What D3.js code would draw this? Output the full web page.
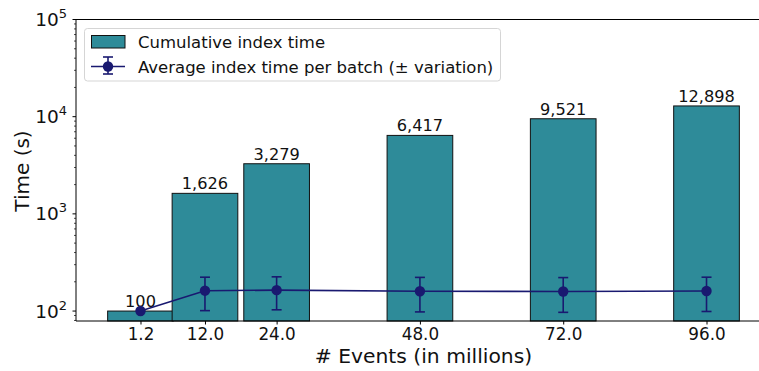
<!DOCTYPE html>
<html>
<head>
<meta charset="utf-8">
<script src="https://cdn.jsdelivr.net/npm/d3@7"></script>
<style>
  body { margin: 0; background: #fff; }
  svg { display: block; font-family: "DejaVu Sans", sans-serif; }
</style>
</head>
<body>
<svg id="chart" width="759" height="371"></svg>
<script>
// data
const events = [1.2, 12.0, 24.0, 48.0, 72.0, 96.0]
const cumulative = [100, 1626, 3279, 6417, 9521, 12898]
const avgBatch = [100, 162, 164, 160, 159, 161]
const variation = [0, 61, 61, 62, 62, 62]
const barWidth = 11

const svg = d3.select('#chart')
const plotLeft = 76, plotTop = 19.5, plotBottom = 321, plotRight = 771

const x = d3.scaleLinear().domain([-9.6, 106.8]).range([plotLeft, plotRight])
const y = d3.scaleLog().domain([79, 1e5]).range([plotBottom, plotTop])

const teal = '#2e8b99'
const navy = '#191970'

// bars
svg.append('g')
  .selectAll('rect')
  .data(events)
  .join('rect')
  .attr('x', d => x(d - barWidth / 2))
  .attr('width', d => x(d + barWidth / 2) - x(d - barWidth / 2))
  .attr('y', (d, i) => y(cumulative[i]))
  .attr('height', (d, i) => plotBottom - y(cumulative[i]))
  .attr('fill', teal)
  .attr('stroke', '#111')
  .attr('stroke-width', 1)

// bar labels
svg.append('g')
  .selectAll('text')
  .data(events)
  .join('text')
  .attr('x', d => x(d))
  .attr('y', (d, i) => y(cumulative[i]) - 4)
  .attr('text-anchor', 'middle')
  .attr('font-size', 16.2)
  .attr('fill', '#111')
  .text((d, i) => d3.format(',')(cumulative[i]))

// average line + error bars
const line = d3.line().x(d => x(d)).y((d, i) => y(avgBatch[i]))
svg.append('path')
  .attr('d', line(events))
  .attr('fill', 'none')
  .attr('stroke', navy)
  .attr('stroke-width', 1.6)

const eb = svg.append('g').selectAll('g').data(events).join('g')
eb.each(function (d, i) {
  if (variation[i] <= 0) return
  const g = d3.select(this)
  const cx = x(d)
  const y0 = y(avgBatch[i] - variation[i]), y1 = y(avgBatch[i] + variation[i])
  g.append('line').attr('x1', cx).attr('x2', cx).attr('y1', y0).attr('y2', y1)
  g.append('line').attr('x1', cx - 5).attr('x2', cx + 5).attr('y1', y0).attr('y2', y0)
  g.append('line').attr('x1', cx - 5).attr('x2', cx + 5).attr('y1', y1).attr('y2', y1)
  g.selectAll('line').attr('stroke', navy).attr('stroke-width', 1.6)
})
eb.append('circle')
  .attr('cx', d => x(d))
  .attr('cy', (d, i) => y(avgBatch[i]))
  .attr('r', 5.2)
  .attr('fill', navy)

// spines
svg.append('path')
  .attr('d', `M${plotLeft},${plotTop}V${plotBottom}H${plotRight}`)
  .attr('fill', 'none').attr('stroke', '#000').attr('stroke-width', 1)
svg.append('line')
  .attr('x1', plotLeft).attr('x2', plotRight).attr('y1', plotTop).attr('y2', plotTop)
  .attr('stroke', '#000').attr('stroke-width', 1)

// x axis
const xAxis = svg.append('g')
  .attr('transform', `translate(0,${plotBottom})`)
  .call(d3.axisBottom(x).tickValues(events).tickFormat(d3.format('.1f')).tickSize(3.5).tickPadding(4))
xAxis.select('.domain').remove()
xAxis.selectAll('text').attr('font-size', 16.8).attr('fill', '#111').attr('font-family', 'DejaVu Sans')

// y axis with log minor ticks
const majors = [100, 1000, 10000, 100000]
const minors = []
for (let e = 1; e <= 4; e++) for (let m = 2; m <= 9; m++) {
  const v = m * Math.pow(10, e)
  if (v >= 79 && v <= 1e5) minors.push(v)
}
svg.append('g').selectAll('line').data(minors).join('line')
  .attr('x1', plotLeft - 2).attr('x2', plotLeft)
  .attr('y1', d => y(d)).attr('y2', d => y(d))
  .attr('stroke', '#000').attr('stroke-width', 0.7)
svg.append('g').selectAll('line').data(majors).join('line')
  .attr('x1', plotLeft - 3.5).attr('x2', plotLeft)
  .attr('y1', d => y(d)).attr('y2', d => y(d))
  .attr('stroke', '#000').attr('stroke-width', 1)
const yt = svg.append('g').selectAll('text').data(majors).join('text')
  .attr('x', plotLeft - 9)
  .attr('y', d => y(d) + 6.5)
  .attr('text-anchor', 'end')
  .attr('font-size', 18.5)
  .attr('fill', '#111')
yt.append('tspan').text('10')
yt.append('tspan').attr('dy', -8).attr('font-size', 13).text(d => Math.round(Math.log10(d)))

// axis labels
svg.append('text')
  .attr('transform', `translate(29,171) rotate(-90)`)
  .attr('text-anchor', 'middle')
  .attr('font-size', 20)
  .attr('fill', '#111')
  .text('Time (s)')
svg.append('text')
  .attr('x', 423.5).attr('y', 362.5)
  .attr('text-anchor', 'middle')
  .attr('font-size', 20.3)
  .attr('fill', '#111')
  .text('# Events (in millions)')

// legend
const lg = svg.append('g')
lg.append('rect')
  .attr('x', 84.5).attr('y', 28.5).attr('width', 416).attr('height', 52.5)
  .attr('rx', 3).attr('fill', '#fff').attr('fill-opacity', 0.8)
  .attr('stroke', '#d5d5d5').attr('stroke-width', 1)
lg.append('rect')
  .attr('x', 91.5).attr('y', 35.5).attr('width', 33.5).attr('height', 12.5)
  .attr('fill', teal).attr('stroke', '#111').attr('stroke-width', 1)
lg.append('line').attr('x1', 91).attr('x2', 125).attr('y1', 66.5).attr('y2', 66.5)
lg.append('line').attr('x1', 108).attr('x2', 108).attr('y1', 57).attr('y2', 74)
lg.append('line').attr('x1', 103).attr('x2', 113).attr('y1', 57).attr('y2', 57)
lg.append('line').attr('x1', 103).attr('x2', 113).attr('y1', 74).attr('y2', 74)
lg.selectAll('line').attr('stroke', navy).attr('stroke-width', 1.6)
lg.append('circle').attr('cx', 108).attr('cy', 66.5).attr('r', 5.2).attr('fill', navy)
lg.append('text').attr('x', 138).attr('y', 47.7).attr('font-size', 16.5).attr('fill', '#111')
  .text('Cumulative index time')
lg.append('text').attr('x', 138).attr('y', 72.7).attr('font-size', 16.5).attr('fill', '#111')
  .text('Average index time per batch (± variation)')
</script>
</body>
</html>
